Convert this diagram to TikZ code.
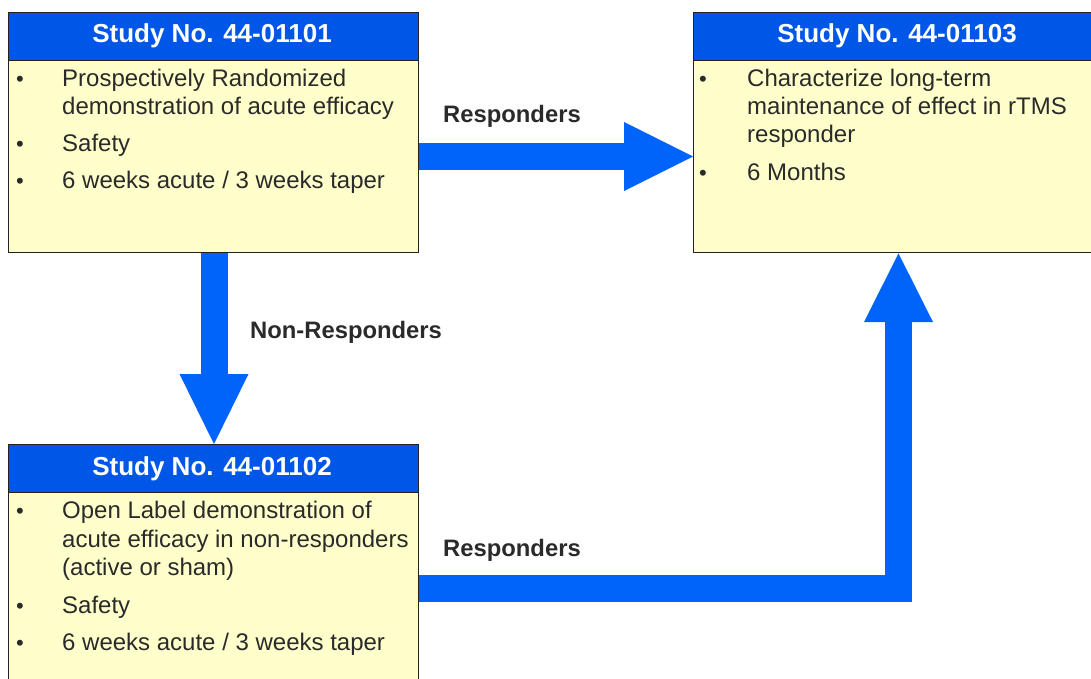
\documentclass[tikz,border=0pt]{standalone}
\usepackage{fontspec}
\setmainfont{Liberation Sans}
\usetikzlibrary{calc}
\definecolor{headblue}{HTML}{0057E7}
\definecolor{arrowblue}{HTML}{0064FA}
\definecolor{bodyfill}{HTML}{FFFFCC}
\definecolor{edge}{HTML}{222222}
\definecolor{txt}{HTML}{2A2A2A}
\tikzset{
  bodybox/.style={draw=edge, line width=1.4pt, fill=bodyfill, inner sep=0pt, minimum width=410pt, minimum height=240pt, anchor=north west},
  headbox/.style={draw=edge, line width=1.4pt, fill=headblue, inner sep=0pt, minimum width=410pt, minimum height=48pt, anchor=north west},
  headtxt/.style={text=white, font=\fontsize{26}{28}\selectfont\bfseries, inner sep=0pt, anchor=base},
  bodytxt/.style={text=txt, font=\fontsize{24}{28}\selectfont, inner sep=0pt, anchor=base west},
  bullettxt/.style={text=txt, font=\fontsize{22}{28}\selectfont, inner sep=0pt, anchor=base},
  labeltxt/.style={text=txt, font=\fontsize{23.8}{28}\selectfont\bfseries, inner sep=0pt, anchor=base west},
  flow/.style={draw=arrowblue, line width=27pt, line join=miter},
  headtip/.style={fill=arrowblue}
}
\begin{document}
\begin{tikzpicture}[x=1pt,y=-1pt]
\useasboundingbox (0,0) rectangle (1091,679);
\clip (0,0) rectangle (1091,679);
% Study 44-01101
\node[bodybox] (A) at (8,12) {};
\node[headbox] (Ah) at (8,12) {};
\node[headtxt] (Aht) at (212,43) {Study No. 44-01101};
\node[bullettxt] (Ab1) at (20,87) {•};
\node[bodytxt] (A1) at (62,87) {Prospectively Randomized};
\node[bodytxt] (A2) at (62,115) {demonstration of acute efficacy};
\node[bullettxt] (Ab2) at (20,152) {•};
\node[bodytxt] (A3) at (62,152) {Safety};
\node[bullettxt] (Ab3) at (20,188) {•};
\node[bodytxt] (A4) at (62,188) {6 weeks acute / 3 weeks taper};
% Study 44-01103
\node[bodybox] (B) at (693,12) {};
\node[headbox] (Bh) at (693,12) {};
\node[headtxt] (Bht) at (897,43) {Study No. 44-01103};
\node[bullettxt] (Bb1) at (703,87) {•};
\node[bodytxt] (B1) at (747,87) {Characterize long-term};
\node[bodytxt] (B2) at (747,115) {maintenance of effect in rTMS};
\node[bodytxt] (B3) at (747,143) {responder};
\node[bullettxt] (Bb2) at (703,180) {•};
\node[bodytxt] (B4) at (747,180) {6 Months};
% Study 44-01102
\node[bodybox] (C) at (8,444) {};
\node[headbox] (Ch) at (8,444) {};
\node[headtxt] (Cht) at (212,475) {Study No. 44-01102};
\node[bullettxt] (Cb1) at (20,518) {•};
\node[bodytxt] (C1) at (62,518) {Open Label demonstration of};
\node[bodytxt] (C2) at (62,547) {acute efficacy in non-responders};
\node[bodytxt] (C3) at (62,575) {(active or sham)};
\node[bullettxt] (Cb2) at (20,613) {•};
\node[bodytxt] (C4) at (62,613) {Safety};
\node[bullettxt] (Cb3) at (20,650) {•};
\node[bodytxt] (C5) at (62,650) {6 weeks acute / 3 weeks taper};
% labels
\node[labeltxt] (L1) at (443,123) {Responders};
\node[labeltxt] (L2) at (250,338) {Non-Responders};
\node[labeltxt] (L3) at (443,556) {Responders};
% connectors
\coordinate (y1) at (0,156.5);
\coordinate (x1) at (214,0);
\coordinate (y2) at (0,588);
\coordinate (x2) at (898.5,0);
\draw[flow] (A.east |- y1) -- (624,156.5);
\fill[headtip] (624,122) -- (B.west |- y1) -- (624,191) -- cycle;
\draw[flow] (A.south -| x1) -- (214,374);
\fill[headtip] (179.5,374) -- (C.north -| x1) -- (248.5,374) -- cycle;
\draw[flow] (C.east |- y2) -| (898.5,322);
\fill[headtip] (864,322) -- (B.south -| x2) -- (933,322) -- cycle;
\end{tikzpicture}
\end{document}
